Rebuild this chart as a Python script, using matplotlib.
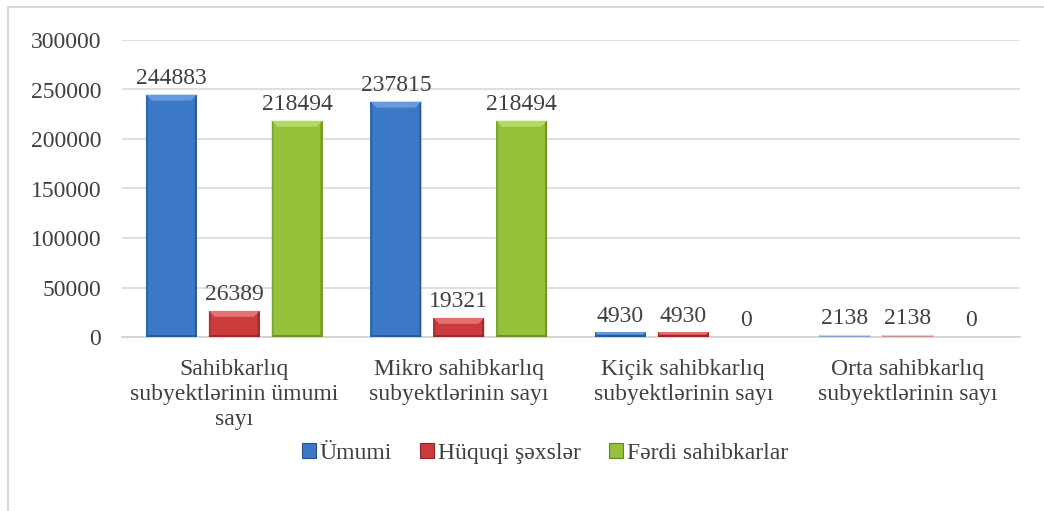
import numpy as np
import matplotlib
matplotlib.use("Agg")
import matplotlib.pyplot as plt
from matplotlib.patches import Polygon
from matplotlib.lines import Line2D

# dati
categorie = ["Sahibkarlıq\nsubyektlərinin ümumi\nsayı",
             "Mikro sahibkarlıq\nsubyektlərinin sayı",
             "Kiçik sahibkarlıq\nsubyektlərinin sayı",
             "Orta sahibkarlıq\nsubyektlərinin sayı"]
serie = ["Ümumi", "Hüquqi şəxslər", "Fərdi sahibkarlar"]
umumi = [244883, 237815, 4930, 2138]
huquqi = [26389, 19321, 4930, 2138]
ferdi = [218494, 218494, 0, 0]
y_ticks = [0, 50000, 100000, 150000, 200000, 250000, 300000]

plt.rcParams['font.family'] = ['Liberation Serif', 'DejaVu Serif']
testo = '#404040'
fs = 17

# colori: base, chiaro, scuro
colori = [('#3b78c6', '#6ea3e3', '#22538f'),
          ('#cc3b3b', '#ea7a7a', '#8e2424'),
          ('#96c23b', '#bcdc6c', '#648524')]
# le barre della categoria Orta sono più chiare
chiari = {(0, 3): ('#a9c6ea', '#cfe0f5', '#7d9cc4'),
          (1, 3): ('#efb3b3', '#f7d6d6', '#c08a8a')}

fig = plt.figure(figsize=(10.44, 5.11), dpi=100)
ax = fig.add_axes([122 / 1044, 1 - 337 / 511, (1020 - 122) / 1044, (337 - 40) / 511])

x = np.arange(len(categorie))
w = 0.227
passo = 0.28
barre = []
for i, (nome, valori) in enumerate(zip(serie, [umumi, huquqi, ferdi])):
    pos = x + (i - 1) * passo
    cols = [chiari.get((i, j), colori[i])[0] for j in range(len(valori))]
    b = ax.bar(pos, valori, w, color=cols, label=nome, zorder=3)
    barre.append((i, b))
    for p, v in zip(pos, valori):
        ax.annotate(str(v), (p, v), xytext=(0, 4), textcoords='offset points',
                    ha='center', va='bottom', fontsize=fs, color=testo)

ax.set_ylim(0, 300000)
ax.set_xlim(-0.5, len(categorie) - 0.5)
ax.set_yticks(y_ticks)
ax.set_yticklabels([str(t) for t in y_ticks], fontsize=fs, color=testo)
ax.set_xticks(x)
ax.set_xticklabels(categorie, fontsize=fs, color=testo, linespacing=1.25)
ax.tick_params(axis='x', length=0, pad=16)
ax.tick_params(axis='y', length=0, pad=15)
ax.grid(axis='y', color='#d9d9d9', linewidth=1.2, zorder=0)
for s in ['top', 'right', 'left']:
    ax.spines[s].set_visible(False)
ax.spines['bottom'].set_color('#d0d0d0')
ax.spines['bottom'].set_linewidth(1.2)

leg = ax.legend(loc='center', bbox_to_anchor=(545 / 1044, 1 - 453 / 511),
                bbox_transform=fig.transFigure, ncol=3, frameon=False,
                fontsize=fs, handlelength=0.6, handleheight=0.6,
                handletextpad=0.15, columnspacing=1.2, labelcolor=testo)

# effetto smussato delle barre (stile Excel)
fig.canvas.draw()
inv = fig.transFigure.inverted()
r = fig.canvas.get_renderer()
for i, b in barre:
    for j, p in enumerate(b.patches):
        base, chiaro, scuro = chiari.get((i, j), colori[i])
        bb = p.get_window_extent(r)
        x0, y0, x1, y1 = bb.x0, bb.y0, bb.x1, bb.y1
        if y1 - y0 <= 0:
            continue
        s = min(6, (y1 - y0) / 2)
        t = min(2, (y1 - y0) / 2)
        facce = [
            ([(x0, y1), (x1, y1), (x1 - s, y1 - s), (x0 + s, y1 - s)], chiaro, 0.85),
            ([(x1, y0), (x1, y1), (x1 - t, y1 - t), (x1 - t, y0)], scuro, 0.8),
            ([(x0, y0), (x0, y1), (x0 + t, y1 - t), (x0 + t, y0)], scuro, 0.5),
            ([(x0, y0), (x1, y0), (x1 - t, y0 + t), (x0 + t, y0 + t)], scuro, 0.8),
        ]
        for pts, c, a in facce:
            poly = Polygon(inv.transform(pts), closed=True, facecolor=c,
                           edgecolor='none', transform=fig.transFigure, zorder=4,
                           alpha=a)
            fig.add_artist(poly)

for h, (base, chiaro, scuro) in zip(leg.legend_handles, colori):
    h.set_edgecolor(scuro)
    h.set_linewidth(0.8)

# cornice del grafico
fig.add_artist(Line2D([8 / 1044, 8 / 1044], [0, 1 - 7 / 511], color='#d9d9d9', lw=1.5))
fig.add_artist(Line2D([8 / 1044, 1], [1 - 7 / 511, 1 - 7 / 511], color='#d9d9d9', lw=1.5))

fig.savefig('out.png', dpi=100)
